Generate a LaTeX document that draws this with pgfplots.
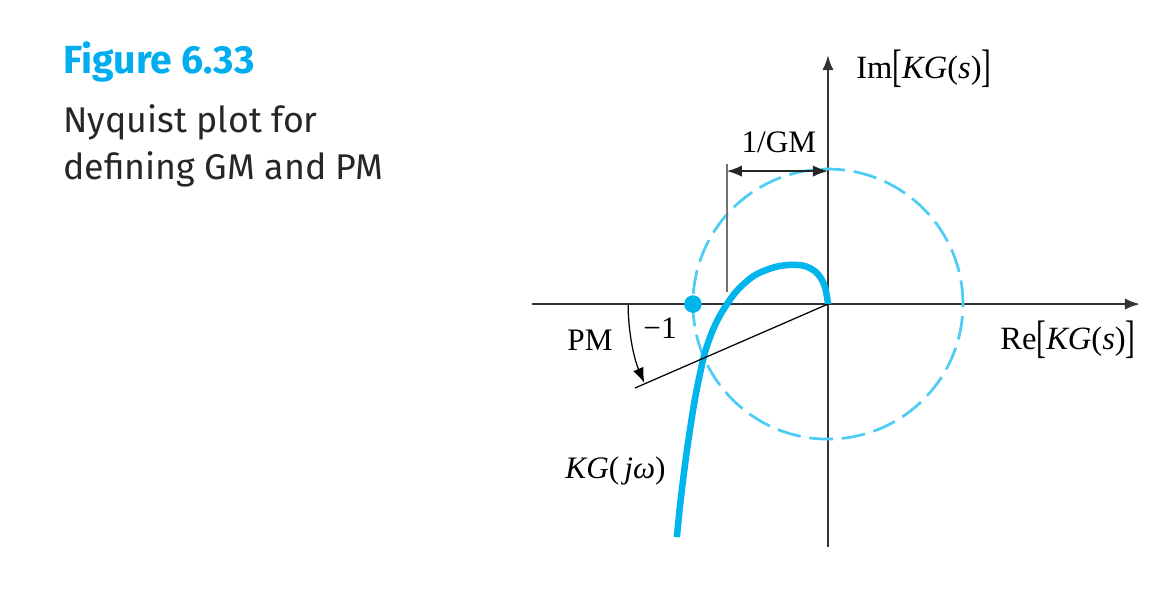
\documentclass[border=0pt]{standalone}
\usepackage{pgfplots}
\pgfplotsset{compat=1.18}
\usepackage{fontspec}
\setmainfont{Liberation Serif}
\newfontfamily\titlefont{Fira Sans}
\usetikzlibrary{arrows.meta}
\definecolor{curvecyan}{HTML}{00B4EC}
\definecolor{circcyan}{HTML}{4DCDF4}
\definecolor{titlecyan}{HTML}{00AEEF}
\definecolor{axisgray}{HTML}{333333}
\newcommand{\lb}{\raisebox{-0.25ex}{\scalebox{0.9}[1.4]{[}}}
\newcommand{\rb}{\raisebox{-0.25ex}{\scalebox{0.9}[1.4]{]}}}
\begin{document}
\begin{tikzpicture}
\begin{axis}[
  scale only axis,
  width=243.2pt, height=196.8pt,
  xmin=-2.193, xmax=2.311, ymin=-1.8, ymax=1.844,
  axis lines=middle,
  axis line style={line width=0.8pt, color=axisgray, -{Latex[length=6pt,width=4.5pt]}},
  xtick=\empty, ytick=\empty,
  clip=false,
  enlargelimits=false,
]
% bounding box of full picture
\path (axis cs:-6.133,-2.207) rectangle (axis cs:2.556,2.252);
% dashed unit circle
\draw[circcyan, line width=1.1pt, dash pattern=on 9.5pt off 3.5pt] (axis cs:0,0) circle [radius=54pt];
% Nyquist curve
\addplot[curvecyan, line width=2.6pt, smooth, tension=0.7] coordinates {
(0,0) (-0.035,0.16) (-0.13,0.265) (-0.28,0.29) (-0.45,0.255) (-0.60,0.17)
(-0.748,0) (-0.875,-0.25) (-0.955,-0.55) (-1.025,-0.95) (-1.085,-1.40) (-1.119,-1.726)
};
% -1 point
\addplot[only marks, mark=*, mark size=3.3pt, curvecyan] coordinates {(-1,0)};
% PM line
\addplot[black, line width=0.5pt] coordinates {(0,0) (-1.43,-0.622)};
% PM arc
\draw[black, line width=0.5pt, -{Latex[length=6pt,width=4.5pt]}] (axis cs:-1.48,0) arc[start angle=180, end angle=203.2, radius=80pt];
% 1/GM
\addplot[black!55, line width=0.6pt] coordinates {(-0.748,0.09) (-0.748,1.04)};
\draw[black!85, line width=0.5pt, {Latex[length=6pt,width=4.5pt]}-{Latex[length=6pt,width=4.5pt]}] (axis cs:-0.748,0.985) -- (axis cs:0,0.985);
% labels
\node[anchor=base west, inner sep=0pt, font=\fontsize{13}{15}\selectfont] at (axis cs:0.207,1.674) {Im\lb\textit{KG}(\textit{s})\rb};
\node[anchor=base west, inner sep=0pt, font=\fontsize{13}{15}\selectfont] at (axis cs:1.274,-0.333) {Re\lb\textit{KG}(\textit{s})\rb};
\node[anchor=base west, inner sep=0pt, font=\fontsize{12.5}{15}\selectfont] at (axis cs:-0.644,1.119) {1/GM};
\node[anchor=base west, inner sep=0pt, font=\fontsize{12.5}{15}\selectfont] at (axis cs:-1.933,-0.341) {PM};
\node[anchor=base west, inner sep=0pt, font=\fontsize{12.5}{15}\selectfont] at (axis cs:-1.370,-0.252) {−1};
\node[anchor=base west, inner sep=0pt, font=\fontsize{12.5}{15}\selectfont] at (axis cs:-1.948,-1.289) {\textit{KG}(\,\textit{jω})};
% title
\node[anchor=base west, inner sep=0pt, font=\titlefont\bfseries\fontsize{15.7}{18}\selectfont, text=titlecyan] at (axis cs:-5.667,1.711) {Figure 6.33};
\node[anchor=base west, inner sep=0pt, font=\titlefont\fontsize{14.3}{17}\selectfont, text=black!85] at (axis cs:-5.667,1.274) {Nyquist plot for};
\node[anchor=base west, inner sep=0pt, font=\titlefont\fontsize{14.3}{17}\selectfont, text=black!85] at (axis cs:-5.667,0.919) {defining GM and PM};
\end{axis}
\end{tikzpicture}
\end{document}
